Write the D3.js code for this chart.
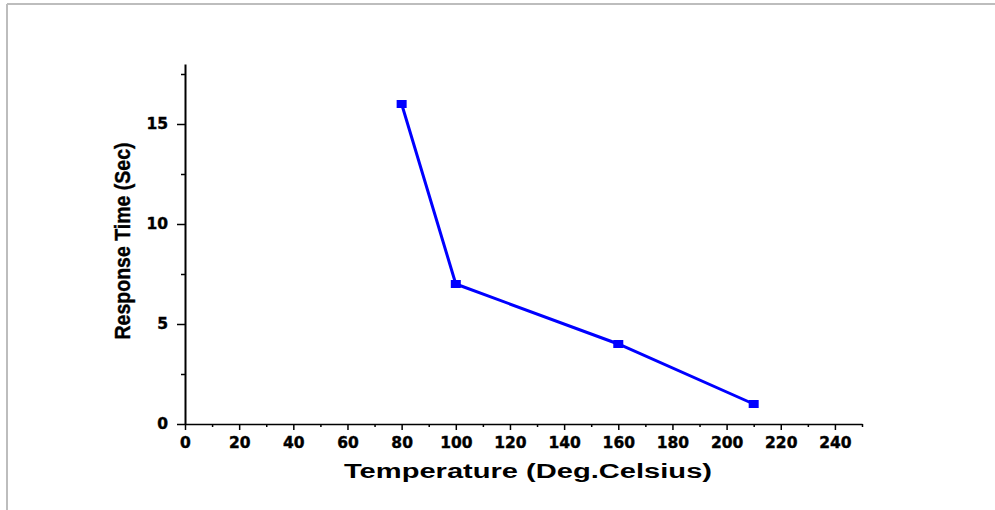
<!DOCTYPE html>
<html>
<head>
<meta charset="utf-8">
<script src="https://cdn.jsdelivr.net/npm/d3@7"></script>
<style>
  html, body { margin: 0; padding: 0; background: #fff; }
  svg { display: block; }
</style>
</head>
<body>
<svg id="chart" width="995" height="510"></svg>
<script>
// Response time of the sensor versus operating temperature
const temperatures = [80, 100, 160, 210];
const responseTimes = [16, 7, 4, 1];

const xMajorTicks = [0, 20, 40, 60, 80, 100, 120, 140, 160, 180, 200, 220, 240];
const xMinorTicks = [10, 30, 50, 70, 90, 110, 130, 150, 170, 190, 210, 230, 250];
const yMajorTicks = [0, 5, 10, 15];
const yMinorTicks = [2.5, 7.5, 12.5, 17.5];

const xTitle = "Temperature (Deg.Celsius)";
const yTitle = "Response Time (Sec)";

const svg = d3.select("#chart");
const W = 995, H = 510;

// frame lines along the top and left edges
svg.append("line").attr("x1", 7).attr("x2", W).attr("y1", 4).attr("y2", 4)
  .attr("stroke", "#bdbdbd").attr("stroke-width", 2);
svg.append("line").attr("x1", 7).attr("x2", 7).attr("y1", 4).attr("y2", H)
  .attr("stroke", "#bdbdbd").attr("stroke-width", 2);

const x = d3.scaleLinear().domain([0, 250]).range([185, 862]);
const y = d3.scaleLinear().domain([0, 18]).range([424, 64]);

const tickFont = "'DejaVu Sans', Verdana, sans-serif";

// x axis
const gx = svg.append("g").attr("transform", `translate(0,${y(0)})`);
gx.call(d3.axisBottom(x).tickValues(xMinorTicks).tickSize(3).tickFormat("").tickSizeOuter(0));
gx.call(g => g.select(".domain").remove());
const gxMaj = svg.append("g").attr("transform", `translate(0,${y(0)})`)
  .call(d3.axisBottom(x).tickValues(xMajorTicks).tickSize(6).tickPadding(7).tickSizeOuter(0).tickFormat(d3.format("d")));
gxMaj.select(".domain").attr("stroke", "#000").attr("stroke-width", 1.6);
gxMaj.selectAll(".tick line").attr("stroke-width", 1.5);
gx.selectAll(".tick line").attr("stroke-width", 1.5);
gxMaj.selectAll(".tick text")
  .attr("font-family", tickFont).attr("font-weight", "bold").attr("font-size", 15.5)
  .attr("fill", "#000").attr("stroke", "#000").attr("stroke-width", 0.4);

// y axis
const gy = svg.append("g").attr("transform", `translate(${x(0)},0)`);
gy.call(d3.axisLeft(y).tickValues(yMinorTicks).tickSize(4).tickFormat("").tickSizeOuter(0));
gy.call(g => g.select(".domain").remove());
const gyMaj = svg.append("g").attr("transform", `translate(${x(0)},0)`)
  .call(d3.axisLeft(y).tickValues(yMajorTicks).tickSize(8).tickPadding(9).tickSizeOuter(0).tickFormat(d3.format("d")));
gyMaj.select(".domain").attr("stroke", "#000").attr("stroke-width", 2);
gyMaj.selectAll(".tick line").attr("stroke-width", 1.5);
gy.selectAll(".tick line").attr("stroke-width", 1.5);
gyMaj.selectAll(".tick text")
  .attr("font-family", tickFont).attr("font-weight", "bold").attr("font-size", 15.5)
  .attr("fill", "#000").attr("stroke", "#000").attr("stroke-width", 0.4);

// axis titles
svg.append("text")
  .attr("x", 528).attr("y", 478)
  .attr("text-anchor", "middle")
  .attr("font-family", "'Liberation Sans', Arial, sans-serif")
  .attr("font-weight", "bold").attr("font-size", 20)
  .attr("textLength", 368).attr("lengthAdjust", "spacingAndGlyphs")
  .text(xTitle);

svg.append("text")
  .attr("transform", "translate(130,241) rotate(-90)")
  .attr("text-anchor", "middle")
  .attr("font-family", "'Liberation Sans Narrow', 'Liberation Sans', Arial, sans-serif")
  .attr("font-weight", "bold").attr("font-size", 22)
  .attr("textLength", 197).attr("lengthAdjust", "spacingAndGlyphs")
  .attr("stroke", "#000").attr("stroke-width", 0.4)
  .text(yTitle);

// series
const points = temperatures.map((t, i) => ({ t, r: responseTimes[i] }));
const line = d3.line().x(d => x(d.t)).y(d => y(d.r));

svg.append("path")
  .datum(points)
  .attr("d", line)
  .attr("fill", "none")
  .attr("stroke", "#0000ff")
  .attr("stroke-width", 3);

svg.selectAll("rect.marker")
  .data(points)
  .enter().append("rect")
  .attr("class", "marker")
  .attr("x", d => x(d.t) - 5)
  .attr("y", d => y(d.r) - 4)
  .attr("width", 10)
  .attr("height", 8)
  .attr("fill", "#0000ff");
</script>
</body>
</html>
